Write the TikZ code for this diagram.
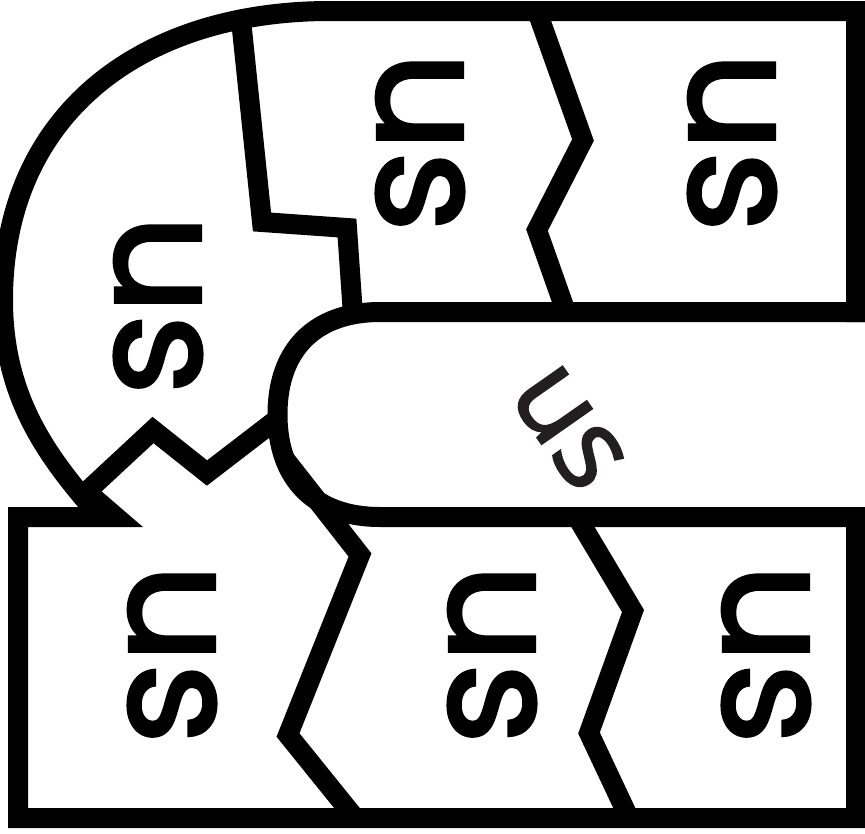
\documentclass[tikz,border=0pt]{standalone}
\usepackage{fontspec}
\setmainfont{Poppins}
\newfontfamily\lblfont{Poppins}[FakeBold=2.2]
\newfontfamily\centerfont{Open Sans}[FakeBold=1.6]
\definecolor{inkdark}{HTML}{231F20}
\begin{document}
\begin{tikzpicture}[x=1pt,y=-1pt,
  piece/.style={draw=black, line width=20pt, line join=miter, line cap=butt},
  lab/.style={font=\lblfont\fontsize{155}{155}\selectfont, rotate=-90, inner sep=0pt},
  clab/.style={font=\centerfont\fontsize{115}{115}\selectfont, text=inkdark, rotate=-55, inner sep=0pt}]
\useasboundingbox (0,0) rectangle (865,833);
% top band with the big left curve
\draw[piece] (100,517) .. controls (50,460) and (3,400) .. (3,300)
  .. controls (3,115) and (140,11) .. (330,11) -- (856,11) -- (856,322);
% pill and bottom band
\draw[piece] (866,312) -- (380,312)
  .. controls (315,312) and (277.5,349.5) .. (277.5,414.5)
  .. controls (277.5,479.5) and (315,517) .. (380,517)
  -- (856,517) -- (856,818) -- (18,818) -- (18,517) -- (116,517)
  -- (86.6,491.7) -- (153,430) -- (207,473) -- (276,420);
% dividers
\draw[piece] (240.6,16) -- (262,222) -- (347,228) -- (353,315);
\draw[piece] (537,11) -- (583,140) -- (537,230) -- (566,312);
\draw[piece] (577,517) -- (633,611) -- (589,733) -- (629,818);
\draw[piece] (284,458) -- (360,555) -- (288,735) -- (355,818);
% labels
\node[lab] (l1) at (158,305) {us};
\node[lab] (l2) at (420,142) {us};
\node[lab] (l3) at (732,142) {us};
\node[lab] (l4) at (172,654) {us};
\node[lab] (l5) at (492,654) {us};
\node[lab] (l6) at (766,654) {us};
\node[clab] (l7) at (568,428) {us};
\end{tikzpicture}
\end{document}
